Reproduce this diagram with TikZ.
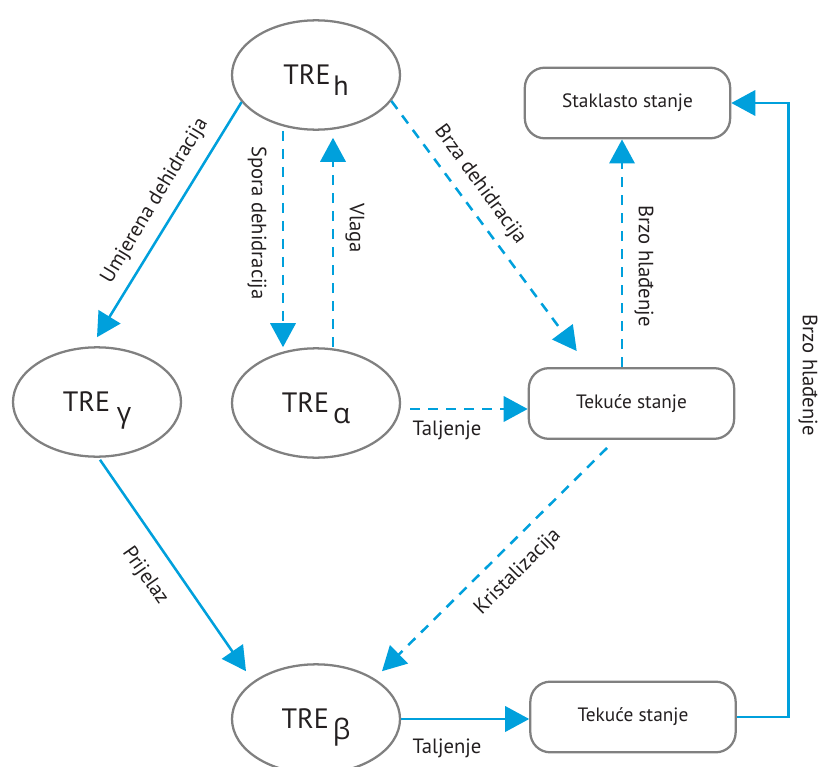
\documentclass[tikz,border=0pt]{standalone}
\usepackage{fontspec}
\setmainfont{PT Sans}
\newfontfamily\grk{Open Sans}
\usetikzlibrary{arrows.meta,calc,shapes.geometric}
\definecolor{cblue}{HTML}{00A0DC}
\definecolor{cgray}{HTML}{808080}
\definecolor{ctext}{HTML}{231F20}
\newcommand{\tresub}[2][0pt]{TRE\hspace{#1}\smash{\raisebox{-8pt}{#2}}}
\begin{document}
\begin{tikzpicture}[x=0.75pt,y=-0.75pt,
  ell/.style={draw=cgray,line width=1.7pt,ellipse,minimum width=126pt,minimum height=82pt,inner sep=0pt,text height=14pt,text depth=0pt,font=\fontsize{21}{24}\selectfont,text=ctext},
  rbox/.style={draw=cgray,line width=1.7pt,rounded corners=15pt,minimum width=154pt,minimum height=53pt,font=\fontsize{14.5}{16}\selectfont,text=ctext},
  lbl/.style={font=\fontsize{15.5}{17}\selectfont,text=ctext,inner sep=0pt},
  conn/.style={cblue,line width=1.9pt,-{Triangle[length=18pt,width=19pt]}},
  dsh/.style={dash pattern=on 7.5pt off 6pt}]
\useasboundingbox (0,0) rectangle (821,767);
\clip (0,0) rectangle (821,767);
% nodes
\node[ell] (h) at (316,75) {\tresub[2pt]{h}};
\node[ell] (g) at (97,402) {\tresub[5pt]{\grk γ}};
\node[ell] (a) at (316,403) {\tresub[3pt]{\grk α}};
\node[ell] (b) at (316,719) {\tresub[3pt]{\grk β}};
\node[rbox] (s) at (627.5,103) {Staklasto stanje};
\node[rbox] (t1) at (631.5,403.5) {Tekuće stanje};
\node[rbox] (t2) at (633,717) {Tekuće stanje};
% connectors
\draw[conn] (h.200) -- ($(g.north)+(0,-9)$);
\draw[conn,dsh] ($(h.south)+(-33,0)$) -- ($(a.north)+(-33,0)$);
\draw[conn,dsh] ($(a.north)+(17,0)$) -- ($(h.south)+(17,7)$);
\draw[conn,dsh] (h.-19) -- ($(t1.north west)+(49,-16)$);
\draw[conn,dsh] ($(t1.north)+(-9.5,0)$) coordinate (b1) -- (b1 |- s.south);
\draw[conn,dsh] ($(a.east)+(9,6)$) coordinate (b2) -- (b2 -| t1.west);
\draw[conn,dsh] ($(t1.south)+(-24.5,8)$) -- ($(b.north)+(66,8)$);
\draw[conn] ($(g.south)+(3,2)$) -- ($(b.north)+(-70,8)$);
\draw[conn] (b.east) -- (b.east -| t2.west);
\draw[conn] (t2.east) -| ($(s.east)+(57,0)$) -- (s.east);
% labels
\node[lbl,rotate=59] (l1) at (155,201) {Umjerena dehidracija};
\node[lbl,rotate=-90] (l2) at (257,223) {Spora dehidracija};
\node[lbl,rotate=-90] (l3) at (355,228) {Vlaga};
\node[lbl,rotate=-54] (l4) at (480,185) {Brza dehidracija};
\node[lbl,rotate=-90] (l5) at (644,266) {Brzo hlađenje};
\node[lbl] (l6) at (447,430) {Taljenje};
\node[lbl,rotate=45] (l7) at (518,572) {Kristalizacija};
\node[lbl,rotate=-55] (l8) at (145,576) {Prijelaz};
\node[lbl] (l9) at (447,748) {Taljenje};
\node[lbl,rotate=-90] (l10) at (808,375) {Brzo hlađenje};
\end{tikzpicture}
\end{document}
